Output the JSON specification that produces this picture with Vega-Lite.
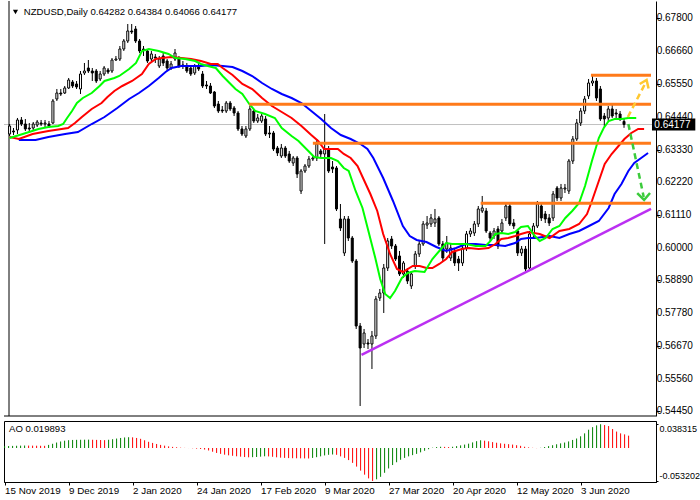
{
"$schema": "https://vega.github.io/schema/vega-lite/v6.json",
"padding": {"left": 3, "top": 0, "right": 0, "bottom": 0},
"background": "white",
"spacing": 3,
"config": {
  "font": "Liberation Sans",
  "view": {"stroke": "black", "strokeWidth": 1},
  "axis": {"grid": false, "labelFont": "Liberation Sans", "labelFontSize": 9.8, "labelColor": "black", "domainColor": "black", "tickColor": "black", "title": null}
},
"datasets": {
  "candles": [
{"i":0,"o":0.63856,"h":0.64195,"l":0.63788,"c":0.64127},
{"i":1,"o":0.63958,"h":0.64059,"l":0.63822,"c":0.63924},
{"i":2,"o":0.63992,"h":0.64399,"l":0.63856,"c":0.64331},
{"i":3,"o":0.64331,"h":0.64432,"l":0.64127,"c":0.64195},
{"i":4,"o":0.64195,"h":0.64365,"l":0.63958,"c":0.64026},
{"i":5,"o":0.64059,"h":0.64229,"l":0.63924,"c":0.64026},
{"i":6,"o":0.64059,"h":0.64263,"l":0.63992,"c":0.64195},
{"i":7,"o":0.64161,"h":0.64331,"l":0.64093,"c":0.64263},
{"i":8,"o":0.64229,"h":0.64331,"l":0.64127,"c":0.64195},
{"i":9,"o":0.64195,"h":0.64331,"l":0.64093,"c":0.64229},
{"i":10,"o":0.64195,"h":0.64297,"l":0.64059,"c":0.64127},
{"i":11,"o":0.64229,"h":0.65043,"l":0.64195,"c":0.64975},
{"i":12,"o":0.65043,"h":0.65382,"l":0.64975,"c":0.65246},
{"i":13,"o":0.65246,"h":0.65382,"l":0.65145,"c":0.65212},
{"i":14,"o":0.65246,"h":0.65484,"l":0.65212,"c":0.65416},
{"i":15,"o":0.65416,"h":0.65755,"l":0.65382,"c":0.65687},
{"i":16,"o":0.65619,"h":0.65687,"l":0.65416,"c":0.65484},
{"i":17,"o":0.65552,"h":0.65653,"l":0.65382,"c":0.6545},
{"i":18,"o":0.65382,"h":0.65992,"l":0.65212,"c":0.65891},
{"i":19,"o":0.65925,"h":0.66264,"l":0.65857,"c":0.65992},
{"i":20,"o":0.66094,"h":0.66365,"l":0.65925,"c":0.65992},
{"i":21,"o":0.65992,"h":0.66094,"l":0.65653,"c":0.65925},
{"i":22,"o":0.65992,"h":0.6606,"l":0.65585,"c":0.65653},
{"i":23,"o":0.65721,"h":0.65992,"l":0.65653,"c":0.65891},
{"i":24,"o":0.65891,"h":0.66162,"l":0.65823,"c":0.66094},
{"i":25,"o":0.66026,"h":0.66094,"l":0.65891,"c":0.65958},
{"i":26,"o":0.65992,"h":0.66433,"l":0.65925,"c":0.66365},
{"i":27,"o":0.66365,"h":0.66501,"l":0.66331,"c":0.66399},
{"i":28,"o":0.66399,"h":0.6684,"l":0.66331,"c":0.66738},
{"i":29,"o":0.66738,"h":0.67077,"l":0.66671,"c":0.6701},
{"i":30,"o":0.6701,"h":0.67586,"l":0.66942,"c":0.67349},
{"i":31,"o":0.67349,"h":0.67586,"l":0.67247,"c":0.67315},
{"i":32,"o":0.67417,"h":0.67518,"l":0.66942,"c":0.6701},
{"i":33,"o":0.6701,"h":0.67077,"l":0.66603,"c":0.66671},
{"i":34,"o":0.66738,"h":0.6684,"l":0.66501,"c":0.66704},
{"i":35,"o":0.66671,"h":0.66738,"l":0.66264,"c":0.66331},
{"i":36,"o":0.66399,"h":0.66671,"l":0.66331,"c":0.66569},
{"i":37,"o":0.66467,"h":0.66569,"l":0.66264,"c":0.66433},
{"i":38,"o":0.66162,"h":0.66501,"l":0.66094,"c":0.66399},
{"i":39,"o":0.66501,"h":0.66603,"l":0.66162,"c":0.66264},
{"i":40,"o":0.66331,"h":0.66399,"l":0.65992,"c":0.66094},
{"i":41,"o":0.66094,"h":0.66331,"l":0.66026,"c":0.6623},
{"i":42,"o":0.66399,"h":0.66738,"l":0.66331,"c":0.66603},
{"i":43,"o":0.66433,"h":0.66501,"l":0.66094,"c":0.66162},
{"i":44,"o":0.66196,"h":0.66331,"l":0.6606,"c":0.66162},
{"i":45,"o":0.66162,"h":0.66264,"l":0.65925,"c":0.65992},
{"i":46,"o":0.66094,"h":0.66162,"l":0.65823,"c":0.65891},
{"i":47,"o":0.65925,"h":0.6623,"l":0.65857,"c":0.66162},
{"i":48,"o":0.66162,"h":0.66264,"l":0.65992,"c":0.6606},
{"i":49,"o":0.65891,"h":0.65992,"l":0.65416,"c":0.65484},
{"i":50,"o":0.65518,"h":0.65653,"l":0.65382,"c":0.65484},
{"i":51,"o":0.65484,"h":0.65585,"l":0.65212,"c":0.65246},
{"i":52,"o":0.6528,"h":0.65314,"l":0.64738,"c":0.64805},
{"i":53,"o":0.64873,"h":0.64975,"l":0.64568,"c":0.64636},
{"i":54,"o":0.6467,"h":0.64805,"l":0.64568,"c":0.64636},
{"i":55,"o":0.64636,"h":0.64975,"l":0.64568,"c":0.64907},
{"i":56,"o":0.64907,"h":0.64975,"l":0.64636,"c":0.64704},
{"i":57,"o":0.64738,"h":0.64805,"l":0.64466,"c":0.64568},
{"i":58,"o":0.64568,"h":0.64636,"l":0.63958,"c":0.64026},
{"i":59,"o":0.64026,"h":0.64127,"l":0.63788,"c":0.63856},
{"i":60,"o":0.63788,"h":0.64127,"l":0.6372,"c":0.64026},
{"i":61,"o":0.64026,"h":0.64805,"l":0.63958,"c":0.64704},
{"i":62,"o":0.64636,"h":0.64704,"l":0.64229,"c":0.64297},
{"i":63,"o":0.64297,"h":0.64534,"l":0.64229,"c":0.64399},
{"i":64,"o":0.64297,"h":0.64534,"l":0.64229,"c":0.64466},
{"i":65,"o":0.64365,"h":0.64466,"l":0.63788,"c":0.63856},
{"i":66,"o":0.6389,"h":0.64127,"l":0.6372,"c":0.63856},
{"i":67,"o":0.6389,"h":0.63958,"l":0.6328,"c":0.63347},
{"i":68,"o":0.63381,"h":0.63449,"l":0.6311,"c":0.63212},
{"i":69,"o":0.6311,"h":0.63517,"l":0.63042,"c":0.63381},
{"i":70,"o":0.63381,"h":0.63449,"l":0.63042,"c":0.6311},
{"i":71,"o":0.63178,"h":0.6328,"l":0.62873,"c":0.6294},
{"i":72,"o":0.62873,"h":0.6311,"l":0.62771,"c":0.63042},
{"i":73,"o":0.63042,"h":0.6311,"l":0.62364,"c":0.625},
{"i":74,"o":0.61923,"h":0.62669,"l":0.61821,"c":0.62601},
{"i":75,"o":0.62601,"h":0.62839,"l":0.62534,"c":0.62771},
{"i":76,"o":0.62771,"h":0.6311,"l":0.62703,"c":0.63008},
{"i":77,"o":0.63008,"h":0.6311,"l":0.6294,"c":0.63042},
{"i":78,"o":0.63042,"h":0.63686,"l":0.6294,"c":0.63517},
{"i":79,"o":0.6328,"h":0.63347,"l":0.63076,"c":0.63178},
{"i":80,"o":0.63178,"h":0.64534,"l":0.60126,"c":0.63347},
{"i":81,"o":0.63347,"h":0.63449,"l":0.62534,"c":0.62601},
{"i":82,"o":0.62737,"h":0.6294,"l":0.62534,"c":0.62669},
{"i":83,"o":0.62703,"h":0.62771,"l":0.61245,"c":0.61313},
{"i":84,"o":0.60974,"h":0.61482,"l":0.60567,"c":0.60668},
{"i":85,"o":0.59821,"h":0.61075,"l":0.59719,"c":0.60974},
{"i":86,"o":0.60974,"h":0.61075,"l":0.60228,"c":0.60329},
{"i":87,"o":0.60329,"h":0.60397,"l":0.59482,"c":0.59549},
{"i":88,"o":0.59549,"h":0.59617,"l":0.57244,"c":0.57345},
{"i":89,"o":0.57345,"h":0.57447,"l":0.54632,"c":0.56599},
{"i":90,"o":0.56735,"h":0.57244,"l":0.56599,"c":0.57108},
{"i":91,"o":0.56769,"h":0.56904,"l":0.56565,"c":0.56735},
{"i":92,"o":0.56735,"h":0.57176,"l":0.55887,"c":0.57006},
{"i":93,"o":0.57006,"h":0.58363,"l":0.56904,"c":0.58261},
{"i":94,"o":0.58295,"h":0.586,"l":0.58193,"c":0.58464},
{"i":95,"o":0.58464,"h":0.59448,"l":0.57786,"c":0.59312},
{"i":96,"o":0.59312,"h":0.60329,"l":0.5921,"c":0.60228},
{"i":97,"o":0.60295,"h":0.60397,"l":0.59956,"c":0.60058},
{"i":98,"o":0.60058,"h":0.60126,"l":0.59549,"c":0.59617},
{"i":99,"o":0.59719,"h":0.59889,"l":0.59041,"c":0.59109},
{"i":100,"o":0.59109,"h":0.59549,"l":0.58973,"c":0.59482},
{"i":101,"o":0.5921,"h":0.59312,"l":0.5877,"c":0.58871},
{"i":102,"o":0.58702,"h":0.5921,"l":0.586,"c":0.59109},
{"i":103,"o":0.5938,"h":0.59889,"l":0.59278,"c":0.59787},
{"i":104,"o":0.59787,"h":0.60228,"l":0.59685,"c":0.60126},
{"i":105,"o":0.60126,"h":0.60906,"l":0.60058,"c":0.60804},
{"i":106,"o":0.6077,"h":0.61075,"l":0.60635,"c":0.60838},
{"i":107,"o":0.60804,"h":0.61143,"l":0.60702,"c":0.61008},
{"i":108,"o":0.60838,"h":0.61313,"l":0.60702,"c":0.60974},
{"i":109,"o":0.61008,"h":0.61075,"l":0.60058,"c":0.60126},
{"i":110,"o":0.60126,"h":0.60228,"l":0.59549,"c":0.59651},
{"i":111,"o":0.59956,"h":0.60397,"l":0.59821,"c":0.6016},
{"i":112,"o":0.59651,"h":0.60126,"l":0.59549,"c":0.5999},
{"i":113,"o":0.59889,"h":0.5999,"l":0.5938,"c":0.59482},
{"i":114,"o":0.59617,"h":0.59719,"l":0.5921,"c":0.59482},
{"i":115,"o":0.59482,"h":0.60058,"l":0.5938,"c":0.5999},
{"i":116,"o":0.5999,"h":0.60567,"l":0.59889,"c":0.60465},
{"i":117,"o":0.60465,"h":0.60668,"l":0.60363,"c":0.60567},
{"i":118,"o":0.60499,"h":0.60906,"l":0.60397,"c":0.60804},
{"i":119,"o":0.60804,"h":0.61414,"l":0.60702,"c":0.61313},
{"i":120,"o":0.61245,"h":0.61754,"l":0.61177,"c":0.61347},
{"i":121,"o":0.61245,"h":0.61347,"l":0.60499,"c":0.60567},
{"i":122,"o":0.60499,"h":0.60567,"l":0.60228,"c":0.60329},
{"i":123,"o":0.60397,"h":0.60668,"l":0.60295,"c":0.60567},
{"i":124,"o":0.60635,"h":0.60736,"l":0.59956,"c":0.60058},
{"i":125,"o":0.60567,"h":0.60974,"l":0.60465,"c":0.60838},
{"i":126,"o":0.61008,"h":0.61516,"l":0.60906,"c":0.61414},
{"i":127,"o":0.61414,"h":0.61482,"l":0.60736,"c":0.60804},
{"i":128,"o":0.60838,"h":0.60974,"l":0.60635,"c":0.60736},
{"i":129,"o":0.60567,"h":0.60635,"l":0.59719,"c":0.59821},
{"i":130,"o":0.59821,"h":0.60058,"l":0.59719,"c":0.59956},
{"i":131,"o":0.59956,"h":0.60058,"l":0.5921,"c":0.59278},
{"i":132,"o":0.59312,"h":0.60567,"l":0.5921,"c":0.60465},
{"i":133,"o":0.60465,"h":0.60838,"l":0.60363,"c":0.60736},
{"i":134,"o":0.60736,"h":0.61584,"l":0.60668,"c":0.61482},
{"i":135,"o":0.61414,"h":0.61482,"l":0.60906,"c":0.61008},
{"i":136,"o":0.61143,"h":0.61245,"l":0.60838,"c":0.60974},
{"i":137,"o":0.61008,"h":0.61143,"l":0.60736,"c":0.60838},
{"i":138,"o":0.61008,"h":0.61923,"l":0.60906,"c":0.61821},
{"i":139,"o":0.62025,"h":0.62093,"l":0.61584,"c":0.61686},
{"i":140,"o":0.61686,"h":0.62161,"l":0.61584,"c":0.62025},
{"i":141,"o":0.61991,"h":0.62161,"l":0.61855,"c":0.62025},
{"i":142,"o":0.61923,"h":0.63008,"l":0.61821,"c":0.6294},
{"i":143,"o":0.6294,"h":0.63788,"l":0.62839,"c":0.63686},
{"i":144,"o":0.63686,"h":0.64365,"l":0.63619,"c":0.64229},
{"i":145,"o":0.64229,"h":0.64738,"l":0.64127,"c":0.64636},
{"i":146,"o":0.64636,"h":0.65145,"l":0.64534,"c":0.65043},
{"i":147,"o":0.65145,"h":0.65721,"l":0.65043,"c":0.65585},
{"i":148,"o":0.65585,"h":0.65823,"l":0.65484,"c":0.65653},
{"i":149,"o":0.65653,"h":0.65755,"l":0.64975,"c":0.65077},
{"i":150,"o":0.65382,"h":0.65484,"l":0.64297,"c":0.64365},
{"i":151,"o":0.64466,"h":0.64568,"l":0.64059,"c":0.64365},
{"i":152,"o":0.64399,"h":0.64805,"l":0.64297,"c":0.64704},
{"i":153,"o":0.64704,"h":0.64873,"l":0.64399,"c":0.64466},
{"i":154,"o":0.64568,"h":0.64704,"l":0.64365,"c":0.64534},
{"i":155,"o":0.64534,"h":0.64636,"l":0.64297,"c":0.64399},
{"i":156,"o":0.64282,"h":0.64384,"l":0.64066,"c":0.64177}
  ],
  "lips": [
{"i":0,"v":0.6372},{"i":3.35,"v":0.63856},{"i":7.35,"v":0.64026},{"i":9.85,"v":0.64093},{"i":12.35,"v":0.64127},{"i":13.6,"v":0.64195},{"i":14.6,"v":0.64399},{"i":15.85,"v":0.64636},{"i":17.1,"v":0.64907},{"i":18.6,"v":0.65077},{"i":20.85,"v":0.65246},{"i":22.85,"v":0.65484},{"i":24.1,"v":0.65653},{"i":26.6,"v":0.65755},{"i":27.85,"v":0.65823},{"i":30.35,"v":0.6606},{"i":32.1,"v":0.66264},{"i":33.6,"v":0.66671},{"i":35.35,"v":0.66738},{"i":37.85,"v":0.66671},{"i":40.35,"v":0.66569},{"i":42.1,"v":0.66433},{"i":44.6,"v":0.66399},{"i":47.1,"v":0.66331},{"i":48.6,"v":0.6623},{"i":50.35,"v":0.66162},{"i":52.35,"v":0.66094},{"i":54.1,"v":0.65823},{"i":55.85,"v":0.65585},{"i":57.35,"v":0.65382},{"i":59.1,"v":0.65212},{"i":60.85,"v":0.64873},{"i":62.35,"v":0.64636},{"i":64.85,"v":0.64534},{"i":67.35,"v":0.64399},{"i":69.1,"v":0.64059},{"i":71.6,"v":0.63788},{"i":73.35,"v":0.63619},{"i":75.85,"v":0.6328},{"i":77.35,"v":0.63076},{"i":79.1,"v":0.63042},{"i":81.6,"v":0.63042},{"i":83.35,"v":0.6294},{"i":84.85,"v":0.62703},{"i":86.1,"v":0.62601},{"i":87.85,"v":0.61923},{"i":89.6,"v":0.61347},{"i":91.1,"v":0.60567},{"i":92.85,"v":0.59651},{"i":94.1,"v":0.58939},{"i":95.35,"v":0.5843},{"i":96.6,"v":0.58295},{"i":97.85,"v":0.58532},{"i":99.6,"v":0.58973},{"i":101.1,"v":0.59143},{"i":102.85,"v":0.5921},{"i":105.35,"v":0.59176},{"i":107.35,"v":0.59617},{"i":109.1,"v":0.59889},{"i":110.85,"v":0.6016},{"i":112.35,"v":0.60126},{"i":115.85,"v":0.60126},{"i":118.35,"v":0.60058},{"i":120.85,"v":0.60058},{"i":122.1,"v":0.60228},{"i":123.35,"v":0.60465},{"i":124.85,"v":0.60499},{"i":126.6,"v":0.60465},{"i":128.35,"v":0.60533},{"i":129.85,"v":0.60702},{"i":131.6,"v":0.60736},{"i":133.35,"v":0.60397},{"i":134.6,"v":0.60228},{"i":136.1,"v":0.60329},{"i":137.85,"v":0.60635},{"i":139.6,"v":0.60736},{"i":141.1,"v":0.61008},{"i":142.85,"v":0.61245},{"i":144.6,"v":0.61516},{"i":146.1,"v":0.62093},{"i":147.85,"v":0.6294},{"i":149.6,"v":0.6372},{"i":150.85,"v":0.64059},{"i":152.1,"v":0.64297},{"i":153.6,"v":0.64365},{"i":155.35,"v":0.64365},{"i":157.1,"v":0.64399},{"i":159.1,"v":0.64399}
  ],
  "teeth": [
{"i":0,"v":0.63754},{"i":2.35,"v":0.63686},{"i":5.85,"v":0.63856},{"i":9.85,"v":0.63958},{"i":14.85,"v":0.64059},{"i":16.6,"v":0.64229},{"i":18.35,"v":0.64432},{"i":20.85,"v":0.64704},{"i":23.35,"v":0.64907},{"i":24.85,"v":0.65111},{"i":26.6,"v":0.65314},{"i":28.6,"v":0.65484},{"i":31.1,"v":0.65653},{"i":33.6,"v":0.65891},{"i":35.35,"v":0.6623},{"i":37.1,"v":0.66399},{"i":38.6,"v":0.66433},{"i":41.1,"v":0.66467},{"i":43.6,"v":0.66433},{"i":46.1,"v":0.66399},{"i":48.6,"v":0.66331},{"i":51.1,"v":0.6623},{"i":52.85,"v":0.6623},{"i":54.1,"v":0.66094},{"i":56.6,"v":0.65857},{"i":59.1,"v":0.65552},{"i":61.6,"v":0.65382},{"i":64.1,"v":0.65077},{"i":66.6,"v":0.64805},{"i":69.1,"v":0.64602},{"i":71.6,"v":0.64399},{"i":74.1,"v":0.64127},{"i":76.6,"v":0.63822},{"i":78.35,"v":0.63619},{"i":79.85,"v":0.63347},{"i":81.6,"v":0.63347},{"i":83.35,"v":0.63347},{"i":84.85,"v":0.63178},{"i":86.6,"v":0.63042},{"i":88.35,"v":0.62771},{"i":89.85,"v":0.6233},{"i":91.6,"v":0.61821},{"i":93.35,"v":0.61245},{"i":94.85,"v":0.60465},{"i":96.6,"v":0.59787},{"i":98.35,"v":0.59278},{"i":99.85,"v":0.59176},{"i":102.35,"v":0.5938},{"i":104.1,"v":0.5938},{"i":105.85,"v":0.59312},{"i":107.35,"v":0.59312},{"i":109.1,"v":0.59448},{"i":110.85,"v":0.59617},{"i":112.35,"v":0.59855},{"i":114.85,"v":0.59956},{"i":116.6,"v":0.5999},{"i":119.1,"v":0.59956},{"i":121.6,"v":0.5999},{"i":123.35,"v":0.60126},{"i":124.85,"v":0.60295},{"i":126.6,"v":0.60329},{"i":128.35,"v":0.60397},{"i":129.85,"v":0.60465},{"i":131.6,"v":0.60533},{"i":134.6,"v":0.60465},{"i":137.1,"v":0.60329},{"i":139.6,"v":0.60567},{"i":142.1,"v":0.60635},{"i":144.6,"v":0.60804},{"i":146.6,"v":0.61143},{"i":147.85,"v":0.61584},{"i":149.6,"v":0.62262},{"i":151.1,"v":0.62839},{"i":152.85,"v":0.63178},{"i":154.6,"v":0.63449},{"i":156.1,"v":0.63686},{"i":157.85,"v":0.6389},{"i":159.6,"v":0.64026},{"i":161.1,"v":0.64026}
  ],
  "jaw": [
{"i":2.35,"v":0.63653},{"i":6.6,"v":0.63653},{"i":9.85,"v":0.63754},{"i":14.1,"v":0.63856},{"i":17.35,"v":0.63924},{"i":20.85,"v":0.64195},{"i":24.1,"v":0.64432},{"i":27.35,"v":0.64738},{"i":30.35,"v":0.65043},{"i":32.85,"v":0.65246},{"i":35.35,"v":0.65484},{"i":37.85,"v":0.65755},{"i":39.6,"v":0.65958},{"i":41.1,"v":0.66094},{"i":43.6,"v":0.66162},{"i":46.1,"v":0.66162},{"i":48.6,"v":0.66162},{"i":51.1,"v":0.66196},{"i":54.1,"v":0.66162},{"i":56.6,"v":0.66128},{"i":59.1,"v":0.65992},{"i":61.6,"v":0.65823},{"i":64.1,"v":0.65585},{"i":66.6,"v":0.65382},{"i":69.1,"v":0.65212},{"i":71.6,"v":0.65077},{"i":74.1,"v":0.64907},{"i":76.6,"v":0.64636},{"i":79.1,"v":0.64365},{"i":81.6,"v":0.64059},{"i":84.1,"v":0.63822},{"i":86.6,"v":0.63686},{"i":89.1,"v":0.63517},{"i":90.85,"v":0.63347},{"i":92.35,"v":0.63042},{"i":94.85,"v":0.62364},{"i":97.35,"v":0.61584},{"i":99.85,"v":0.60736},{"i":101.6,"v":0.60397},{"i":103.35,"v":0.60262},{"i":105.85,"v":0.60194},{"i":108.35,"v":0.60024},{"i":110.85,"v":0.59889},{"i":113.35,"v":0.5999},{"i":115.85,"v":0.60126},{"i":118.35,"v":0.60126},{"i":120.85,"v":0.60092},{"i":123.35,"v":0.60092},{"i":125.85,"v":0.60058},{"i":128.35,"v":0.6016},{"i":129.85,"v":0.60295},{"i":131.6,"v":0.60329},{"i":133.6,"v":0.60329},{"i":137.1,"v":0.60397},{"i":139.6,"v":0.60329},{"i":142.1,"v":0.60465},{"i":144.6,"v":0.60567},{"i":147.1,"v":0.60736},{"i":149.6,"v":0.60906},{"i":152.1,"v":0.61347},{"i":153.6,"v":0.61821},{"i":155.35,"v":0.62161},{"i":157.1,"v":0.62601},{"i":158.6,"v":0.62873},{"i":160.35,"v":0.63042},{"i":162.1,"v":0.63212}
  ],
  "levels": [
{"x1":147.6,"x2":162.85,"p":0.65847},
{"x1":60.85,"x2":162.85,"p":0.64863},
{"x1":77.0,"x2":162.85,"p":0.63541},
{"x1":119.6,"x2":162.85,"p":0.61506}
  ],
  "trend": [{"i":89.35,"p":0.56362},{"i":162.85,"p":0.61313}],
  "arrows": [
{"a":"up","k":"shaft","n":0,"i":156.98,"p":0.64432},
{"a":"up","k":"shaft","n":1,"i":161.5,"p":0.65600},
{"a":"up","k":"head","n":0,"i":159.98,"p":0.65552},
{"a":"up","k":"head","n":1,"i":161.73,"p":0.65687},
{"a":"up","k":"head","n":2,"i":162.23,"p":0.65399},
{"a":"down","k":"shaft","n":0,"i":157.1,"p":0.64195},
{"a":"down","k":"shaft","n":1,"i":161.0,"p":0.6172},
{"a":"down","k":"head","n":0,"i":159.35,"p":0.61855},
{"a":"down","k":"head","n":1,"i":161.1,"p":0.61618},
{"a":"down","k":"head","n":2,"i":162.6,"p":0.61855}
  ],
  "pricelabels": [
{"p":0.678,"t":"0.67800"},{"p":0.6666,"t":"0.66660"},{"p":0.6555,"t":"0.65550"},{"p":0.6444,"t":"0.64440"},{"p":0.6333,"t":"0.63330"},{"p":0.6222,"t":"0.62220"},{"p":0.6111,"t":"0.61110"},{"p":0.6,"t":"0.60000"},{"p":0.5889,"t":"0.58890"},{"p":0.5778,"t":"0.57780"},{"p":0.5667,"t":"0.56670"},{"p":0.5556,"t":"0.55560"},{"p":0.5445,"t":"0.54450"}
  ],
  "ao": [
{"i":0,"v":0.003,"d":"u"},{"i":1,"v":0.0032,"d":"u"},{"i":2,"v":0.0034,"d":"u"},{"i":3,"v":0.0036,"d":"u"},{"i":4,"v":0.0038,"d":"u"},{"i":5,"v":0.004,"d":"u"},
{"i":6,"v":0.0039,"d":"d"},{"i":7,"v":0.0038,"d":"d"},{"i":8,"v":0.0037,"d":"d"},{"i":9,"v":0.0036,"d":"d"},{"i":10,"v":0.0035,"d":"d"},
{"i":11,"v":0.005,"d":"u"},{"i":12,"v":0.0068,"d":"u"},{"i":13,"v":0.0088,"d":"u"},{"i":14,"v":0.0105,"d":"u"},{"i":15,"v":0.0118,"d":"u"},{"i":16,"v":0.0126,"d":"u"},{"i":17,"v":0.013,"d":"u"},{"i":18,"v":0.0132,"d":"u"},{"i":19,"v":0.0133,"d":"u"},{"i":20,"v":0.0134,"d":"u"},{"i":21,"v":0.0135,"d":"u"},
{"i":22,"v":0.0133,"d":"d"},{"i":23,"v":0.0131,"d":"d"},{"i":24,"v":0.0129,"d":"d"},{"i":25,"v":0.0127,"d":"d"},
{"i":26,"v":0.0133,"d":"u"},{"i":27,"v":0.0142,"d":"u"},{"i":28,"v":0.0152,"d":"u"},{"i":29,"v":0.0162,"d":"u"},{"i":30,"v":0.017,"d":"u"},{"i":31,"v":0.0174,"d":"u"},
{"i":32,"v":0.0172,"d":"d"},{"i":33,"v":0.0162,"d":"d"},{"i":34,"v":0.0148,"d":"d"},{"i":35,"v":0.0125,"d":"d"},{"i":36,"v":0.01,"d":"d"},{"i":37,"v":0.0082,"d":"d"},{"i":38,"v":0.0065,"d":"d"},{"i":39,"v":0.005,"d":"d"},{"i":40,"v":0.0038,"d":"d"},{"i":41,"v":0.0026,"d":"d"},{"i":42,"v":0.0018,"d":"d"},{"i":43,"v":0.0012,"d":"d"},{"i":44,"v":0.0005,"d":"d"},{"i":45,"v":0.0002,"d":"d"},{"i":46,"v":-0.0001,"d":"d"},{"i":47,"v":-0.0004,"d":"d"},{"i":48,"v":-0.001,"d":"d"},{"i":49,"v":-0.0016,"d":"d"},{"i":50,"v":-0.0025,"d":"d"},{"i":51,"v":-0.004,"d":"d"},{"i":52,"v":-0.006,"d":"d"},{"i":53,"v":-0.008,"d":"d"},{"i":54,"v":-0.0095,"d":"d"},{"i":55,"v":-0.0108,"d":"d"},{"i":56,"v":-0.0118,"d":"d"},{"i":57,"v":-0.0126,"d":"d"},{"i":58,"v":-0.0134,"d":"d"},{"i":59,"v":-0.014,"d":"d"},{"i":60,"v":-0.0146,"d":"d"},{"i":61,"v":-0.015,"d":"d"},
{"i":62,"v":-0.0148,"d":"u"},{"i":63,"v":-0.0145,"d":"u"},{"i":64,"v":-0.014,"d":"u"},{"i":65,"v":-0.0134,"d":"u"},
{"i":66,"v":-0.0136,"d":"d"},{"i":67,"v":-0.0142,"d":"d"},{"i":68,"v":-0.015,"d":"d"},{"i":69,"v":-0.0156,"d":"d"},{"i":70,"v":-0.016,"d":"d"},{"i":71,"v":-0.0163,"d":"d"},{"i":72,"v":-0.0165,"d":"d"},{"i":73,"v":-0.0166,"d":"d"},{"i":74,"v":-0.0167,"d":"d"},{"i":75,"v":-0.0168,"d":"d"},{"i":76,"v":-0.0169,"d":"d"},
{"i":77,"v":-0.016,"d":"u"},{"i":78,"v":-0.0148,"d":"u"},{"i":79,"v":-0.0135,"d":"u"},{"i":80,"v":-0.012,"d":"u"},{"i":81,"v":-0.011,"d":"u"},{"i":82,"v":-0.0105,"d":"u"},
{"i":83,"v":-0.011,"d":"d"},{"i":84,"v":-0.0135,"d":"d"},{"i":85,"v":-0.016,"d":"d"},{"i":86,"v":-0.0195,"d":"d"},{"i":87,"v":-0.024,"d":"d"},{"i":88,"v":-0.03,"d":"d"},{"i":89,"v":-0.0365,"d":"d"},{"i":90,"v":-0.043,"d":"d"},{"i":91,"v":-0.049,"d":"d"},{"i":92,"v":-0.0532,"d":"d"},
{"i":93,"v":-0.0505,"d":"u"},{"i":94,"v":-0.0465,"d":"u"},{"i":95,"v":-0.04,"d":"u"},{"i":96,"v":-0.033,"d":"u"},{"i":97,"v":-0.0275,"d":"u"},{"i":98,"v":-0.023,"d":"u"},{"i":99,"v":-0.019,"d":"u"},{"i":100,"v":-0.016,"d":"u"},{"i":101,"v":-0.0135,"d":"u"},{"i":102,"v":-0.0115,"d":"u"},{"i":103,"v":-0.0095,"d":"u"},{"i":104,"v":-0.007,"d":"u"},{"i":105,"v":-0.0045,"d":"u"},{"i":106,"v":-0.002,"d":"u"},{"i":107,"v":0.0005,"d":"u"},{"i":108,"v":0.0015,"d":"u"},{"i":109,"v":0.002,"d":"u"},
{"i":110,"v":0.0018,"d":"d"},{"i":111,"v":0.0015,"d":"d"},
{"i":112,"v":0.002,"d":"u"},{"i":113,"v":0.003,"d":"u"},{"i":114,"v":0.0042,"d":"u"},{"i":115,"v":0.0055,"d":"u"},{"i":116,"v":0.007,"d":"u"},{"i":117,"v":0.009,"d":"u"},{"i":118,"v":0.011,"d":"u"},{"i":119,"v":0.0125,"d":"u"},
{"i":120,"v":0.0118,"d":"d"},{"i":121,"v":0.0108,"d":"d"},{"i":122,"v":0.0095,"d":"d"},{"i":123,"v":0.0085,"d":"d"},{"i":124,"v":0.0075,"d":"d"},{"i":125,"v":0.0068,"d":"d"},{"i":126,"v":0.0062,"d":"d"},{"i":127,"v":0.0055,"d":"d"},{"i":128,"v":0.0045,"d":"d"},{"i":129,"v":0.0035,"d":"d"},{"i":130,"v":0.002,"d":"d"},{"i":131,"v":0.001,"d":"d"},{"i":132,"v":0.0003,"d":"d"},{"i":133,"v":-0.0002,"d":"d"},
{"i":134,"v":0.0003,"d":"u"},{"i":135,"v":0.0015,"d":"u"},{"i":136,"v":0.003,"d":"u"},{"i":137,"v":0.0045,"d":"u"},{"i":138,"v":0.006,"d":"u"},{"i":139,"v":0.0075,"d":"u"},{"i":140,"v":0.0088,"d":"u"},{"i":141,"v":0.0106,"d":"u"},{"i":142,"v":0.013,"d":"u"},{"i":143,"v":0.0153,"d":"u"},{"i":144,"v":0.0189,"d":"u"},{"i":145,"v":0.0236,"d":"u"},{"i":146,"v":0.0295,"d":"u"},{"i":147,"v":0.0336,"d":"u"},{"i":148,"v":0.0365,"d":"u"},{"i":149,"v":0.038315,"d":"u"},
{"i":150,"v":0.037,"d":"d"},{"i":151,"v":0.0354,"d":"d"},{"i":152,"v":0.0306,"d":"d"},{"i":153,"v":0.0265,"d":"d"},{"i":154,"v":0.0236,"d":"d"},{"i":155,"v":0.022,"d":"d"},{"i":156,"v":0.019893,"d":"d"}
  ]
},
"vconcat": [
{
  "width": 652,
  "height": 415,
  "view": {"stroke": null},
  "layer": [
    {
      "data": {"values": [{"p": 0.64177}]},
      "mark": {"type": "rule", "color": "#C0C0C0", "strokeWidth": 1},
      "encoding": {
        "y": {"field": "p", "type": "quantitative", "title": null,
          "scale": {"domain": [0.54293, 0.68366], "nice": false, "zero": false},
          "axis": {"orient": "right", "title": null, "values": [0.678,0.6666,0.6555,0.6444,0.6333,0.6222,0.6111,0.6,0.5889,0.5778,0.5667,0.5556,0.5445], "labels": false, "tickSize": 4}}
      }
    },
    {
      "data": {"values": [{"i": -0.15}]},
      "mark": {"type": "rule", "color": "black", "strokeWidth": 1},
      "encoding": {"x": {"field": "i", "type": "quantitative", "title": null, "scale": {"domain": [-0.15, 162.85], "nice": false, "zero": false}, "axis": null}}
    },
    {
      "data": {"values": [{"p": 0.54293}]},
      "mark": {"type": "rule", "color": "black", "strokeWidth": 1},
      "encoding": {"y": {"field": "p", "type": "quantitative", "title": null}}
    },
    {
      "data": {"name": "pricelabels"},
      "mark": {"type": "text", "align": "left", "baseline": "middle", "fontSize": 10, "color": "black", "font": "Liberation Sans"},
      "encoding": {"x": {"datum": 164.3, "type": "quantitative"}, "y": {"field": "p", "type": "quantitative", "title": null}, "text": {"field": "t"}}
    },
    {
      "data": {"name": "candles"},
      "mark": {"type": "rule", "color": "black", "strokeWidth": 1},
      "encoding": {
        "x": {"field": "i", "type": "quantitative", "title": null},
        "y": {"field": "l", "type": "quantitative", "title": null},
        "y2": {"field": "h"}
      }
    },
    {
      "data": {"name": "candles"},
      "mark": {"type": "bar", "width": 2, "stroke": "black", "strokeWidth": 1},
      "encoding": {
        "x": {"field": "i", "type": "quantitative", "title": null},
        "y": {"field": "o", "type": "quantitative", "title": null},
        "y2": {"field": "c"},
        "fill": {"condition": {"test": "datum.c < datum.o", "value": "black"}, "value": "white"}
      }
    },
    {
      "data": {"name": "jaw"},
      "mark": {"type": "line", "color": "#0000FF", "strokeWidth": 2},
      "encoding": {"x": {"field": "i", "type": "quantitative", "title": null}, "y": {"field": "v", "type": "quantitative", "title": null}}
    },
    {
      "data": {"name": "teeth"},
      "mark": {"type": "line", "color": "#FF0000", "strokeWidth": 2},
      "encoding": {"x": {"field": "i", "type": "quantitative", "title": null}, "y": {"field": "v", "type": "quantitative", "title": null}}
    },
    {
      "data": {"name": "lips"},
      "mark": {"type": "line", "color": "#00FF00", "strokeWidth": 2},
      "encoding": {"x": {"field": "i", "type": "quantitative", "title": null}, "y": {"field": "v", "type": "quantitative", "title": null}}
    },
    {
      "data": {"name": "levels"},
      "mark": {"type": "rule", "color": "#FF7A1A", "strokeWidth": 3},
      "encoding": {"x": {"field": "x1", "type": "quantitative", "title": null}, "x2": {"field": "x2"}, "y": {"field": "p", "type": "quantitative", "title": null}}
    },
    {
      "data": {"name": "trend"},
      "mark": {"type": "line", "color": "#BB30F2", "strokeWidth": 2.5},
      "encoding": {"x": {"field": "i", "type": "quantitative", "title": null}, "y": {"field": "p", "type": "quantitative", "title": null}}
    },
    {
      "data": {"name": "arrows"},
      "transform": [{"filter": "datum.a == 'up' && datum.k == 'shaft'"}],
      "mark": {"type": "line", "color": "#FFC830", "strokeWidth": 2.5, "strokeDash": [6, 4]},
      "encoding": {"x": {"field": "i", "type": "quantitative", "title": null}, "y": {"field": "p", "type": "quantitative", "title": null}, "order": {"field": "n"}}
    },
    {
      "data": {"name": "arrows"},
      "transform": [{"filter": "datum.a == 'up' && datum.k == 'head'"}],
      "mark": {"type": "line", "color": "#FFC830", "strokeWidth": 2.5},
      "encoding": {"x": {"field": "i", "type": "quantitative", "title": null}, "y": {"field": "p", "type": "quantitative", "title": null}, "order": {"field": "n"}}
    },
    {
      "data": {"name": "arrows"},
      "transform": [{"filter": "datum.a == 'down' && datum.k == 'shaft'"}],
      "mark": {"type": "line", "color": "#3CCB3C", "strokeWidth": 2.5, "strokeDash": [6, 4]},
      "encoding": {"x": {"field": "i", "type": "quantitative", "title": null}, "y": {"field": "p", "type": "quantitative", "title": null}, "order": {"field": "n"}}
    },
    {
      "data": {"name": "arrows"},
      "transform": [{"filter": "datum.a == 'down' && datum.k == 'head'"}],
      "mark": {"type": "line", "color": "#3CCB3C", "strokeWidth": 2.5},
      "encoding": {"x": {"field": "i", "type": "quantitative", "title": null}, "y": {"field": "p", "type": "quantitative", "title": null}, "order": {"field": "n"}}
    },
    {
      "data": {"values": [{"i": 1.5, "p": 0.67993}]},
      "mark": {"type": "point", "shape": "triangle-down", "size": 26, "filled": true, "color": "black", "opacity": 1},
      "encoding": {"x": {"field": "i", "type": "quantitative", "title": null}, "y": {"field": "p", "type": "quantitative", "title": null}}
    },
    {
      "data": {"values": [{"i": 3.6, "p": 0.67993, "t": "NZDUSD,Daily  0.64282 0.64384 0.64066 0.64177"}]},
      "mark": {"type": "text", "align": "left", "baseline": "middle", "fontSize": 9.6, "color": "black", "font": "Liberation Sans"},
      "encoding": {"x": {"field": "i", "type": "quantitative", "title": null}, "y": {"field": "p", "type": "quantitative", "title": null}, "text": {"field": "t"}}
    },
    {
      "data": {"values": [{"x1": 163.1, "x2": 174.1, "y1": 0.64382, "y2": 0.63975}]},
      "mark": {"type": "rect", "color": "black"},
      "encoding": {"x": {"field": "x1", "type": "quantitative", "title": null}, "x2": {"field": "x2"}, "y": {"field": "y1", "type": "quantitative", "title": null}, "y2": {"field": "y2"}}
    },
    {
      "data": {"values": [{"i": 163.7, "p": 0.64177, "t": "0.64177"}]},
      "mark": {"type": "text", "align": "left", "baseline": "middle", "fontSize": 10, "color": "white", "font": "Liberation Sans"},
      "encoding": {"x": {"field": "i", "type": "quantitative", "title": null}, "y": {"field": "p", "type": "quantitative", "title": null}, "text": {"field": "t"}}
    }
  ]
},
{
  "width": 652,
  "height": 61,
  "layer": [
    {
      "data": {"name": "ao"},
      "mark": {"type": "rule", "strokeWidth": 1},
      "encoding": {
        "x": {"field": "i", "type": "quantitative", "title": null, "scale": {"domain": [-0.15, 162.85], "nice": false, "zero": false},
          "axis": {"title": null, "values": [0,16,32,48,64,80,96,112,128,144], "labelExpr": "['15 Nov 2019','9 Dec 2019','2 Jan 2020','24 Jan 2020','17 Feb 2020','9 Mar 2020','27 Mar 2020','20 Apr 2020','12 May 2020','3 Jun 2020'][round(datum.value/16)]", "labelAlign": "left", "labelPadding": 0, "tickSize": 3, "labelFontSize": 9.8, "labelOverlap": false}},
        "y": {"field": "v", "type": "quantitative", "title": null, "scale": {"domain": [-0.05484, 0.04355], "nice": false, "zero": false},
          "axis": {"orient": "right", "title": null, "values": [0.038315, 0, -0.053202], "labelExpr": "datum.value > 0.01 ? '0.038315' : (datum.value < -0.01 ? '-0.053202' : '0.00')", "tickSize": 2, "labelPadding": 1, "labelFontSize": 9, "labelOverlap": false,
            "labelBaseline": {"condition": [{"test": "datum.value > 0.01", "value": "top"}, {"test": "datum.value < -0.01", "value": "bottom"}], "value": "middle"}}},
        "y2": {"datum": 0},
        "color": {"condition": {"test": "datum.d == 'u'", "value": "#008000"}, "value": "#FF0000"}
      }
    },
    {
      "data": {"values": [{"i": 1.1, "v": 0.0306, "t": "AO 0.019893"}]},
      "mark": {"type": "text", "align": "left", "baseline": "middle", "fontSize": 9.6, "color": "black", "font": "Liberation Sans"},
      "encoding": {"x": {"field": "i", "type": "quantitative", "title": null}, "y": {"field": "v", "type": "quantitative", "title": null}, "text": {"field": "t"}}
    }
  ]
}
]
}
